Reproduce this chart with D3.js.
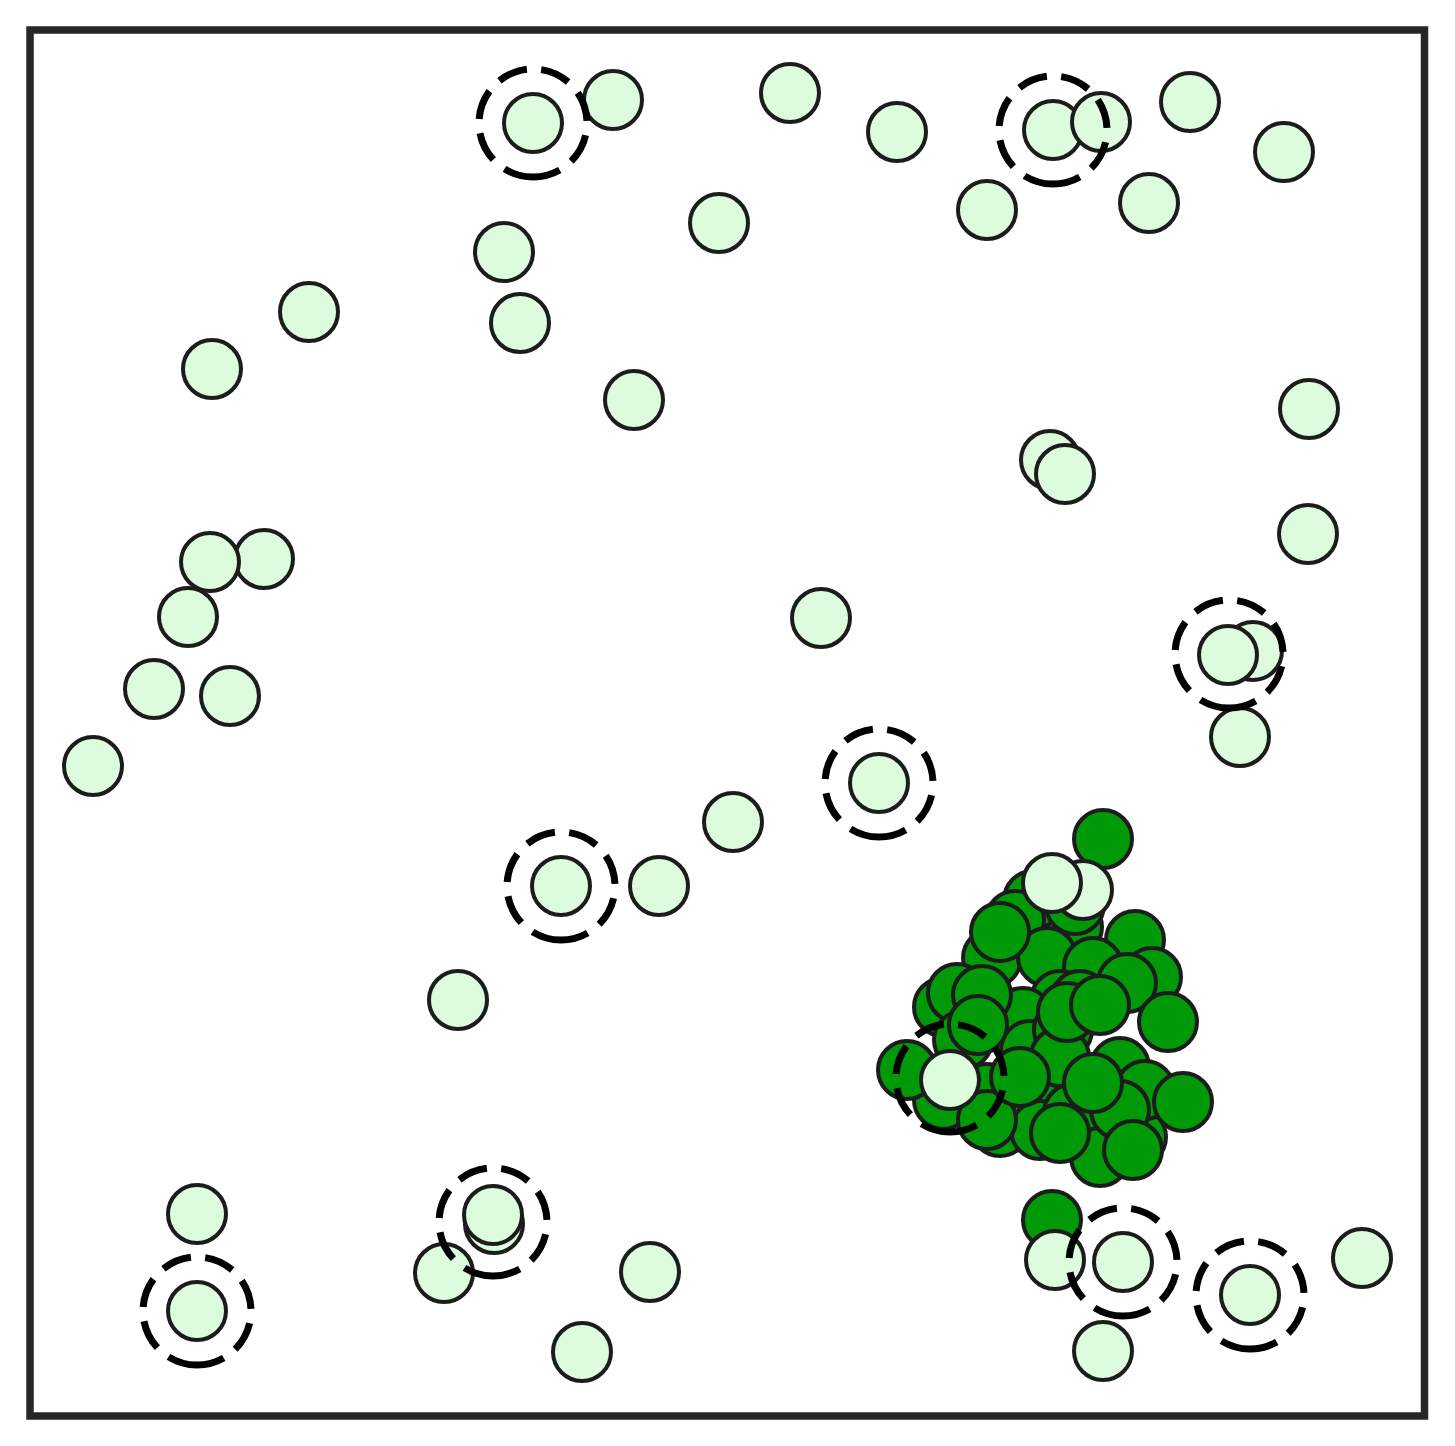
<!DOCTYPE html>
<html>
<head>
<meta charset="utf-8">
<script src="https://cdn.jsdelivr.net/npm/d3@7"></script>
<style>
  html, body { margin: 0; padding: 0; background: #ffffff; }
  svg { display: block; }
</style>
</head>
<body>
<div id="chart"></div>
<script>
// ---- data (plot units; origin at the lower-left corner of the frame) ----
const lightX = [503,583,760,867,1023,1071,1160,1254,957,1119,689,474,490,279,182,604,1279,1020,1035,1278,234,180,158,791,1223,1198,124,200,63,1210,849,703,531,629,1053,1022,428,920,167,464,463,414,620,552,167,1025,1093,1220,1332,1073];
const lightY = [1293,1316,1323,1284,1286,1294,1314,1264,1206,1213,1193,1164,1093,1104,1047,1016,1007,956,942,882,857,854,799,798,765,761,727,720,650,679,633,594,530,530,526,533,416,336,202,192,201,143,144,64,105,156,154,121,158,65];

const darkX = [1043,1003,1045,985,962,1017,1105,1122,1063,913,927,1030,1050,993,933,1000,1033,1010,1030,1090,957,913,970,1010,1043,1070,1107,1115,957,1030,1090,1073,970,1097,1138,952,1037,948,1063,877,990,1153,1103,1070,1022];
const darkY = [489,516,511,496,458,459,476,439,449,409,423,416,416,399,376,366,386,326,359,349,323,316,289,286,303,259,279,326,296,283,306,577,484,433,394,421,404,391,333,346,339,314,266,411,196];

const ringX = [503,1023,1199,849,531,920,463,167,1093,1220];
const ringY = [1293,1286,762,633,530,338,194,105,154,121];

// ---- layout ----
const W = 1455, H = 1446;
const frame = {left: 30, top: 30, right: 1424.5, bottom: 1416};
const x = d3.scaleLinear().domain([0, 1394.5]).range([frame.left, frame.right]);
const y = d3.scaleLinear().domain([0, 1386]).range([frame.bottom, frame.top]);

const svg = d3.select("#chart").append("svg")
  .attr("width", W).attr("height", H);

const light = lightX.map((v, i) => ({x: v, y: lightY[i]}));
const dark = darkX.map((v, i) => ({x: v, y: darkY[i]}));
const rings = ringX.map((v, i) => ({x: v, y: ringY[i]}));

const R = 29;

svg.append("g").selectAll("circle").data(dark).join("circle")
  .attr("cx", d => x(d.x)).attr("cy", d => y(d.y)).attr("r", R)
  .attr("fill", "#009a09").attr("stroke", "#1c1c1c").attr("stroke-width", 4);

svg.append("g").selectAll("circle").data(light).join("circle")
  .attr("cx", d => x(d.x)).attr("cy", d => y(d.y)).attr("r", R)
  .attr("fill", "#ddfcdd").attr("stroke", "#1c1c1c").attr("stroke-width", 4);

const RR = 54;
svg.append("g").selectAll("path").data(rings).join("path")
  .attr("d", d => {
    const cx = x(d.x), cy = y(d.y);
    return `M${cx},${cy + RR} A${RR},${RR} 0 1 1 ${cx},${cy - RR} A${RR},${RR} 0 1 1 ${cx},${cy + RR}`;
  })
  .attr("fill", "none").attr("stroke", "#000").attr("stroke-width", 7)
  .attr("stroke-dasharray", "30,14.4");

svg.append("rect")
  .attr("x", frame.left).attr("y", frame.top)
  .attr("width", frame.right - frame.left).attr("height", frame.bottom - frame.top)
  .attr("fill", "none").attr("stroke", "#262626").attr("stroke-width", 7.5);
</script>
</body>
</html>
